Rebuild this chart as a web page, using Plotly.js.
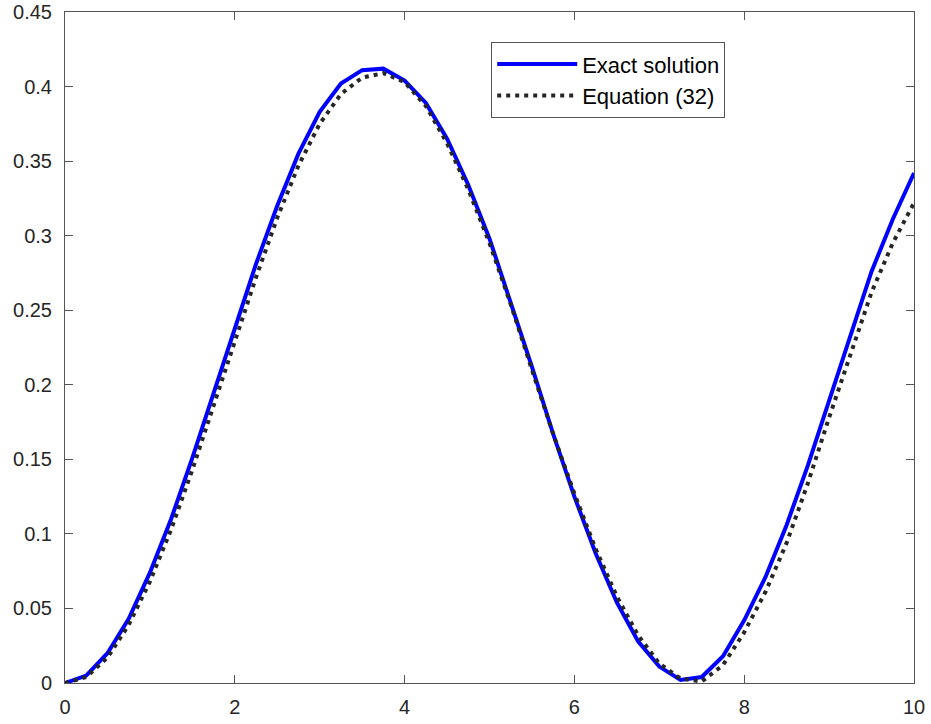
<!DOCTYPE html>
<html>
<head>
<meta charset="utf-8">
<script src="https://cdn.plot.ly/plotly-3.0.1.min.js"></script>
<style>
  html, body { margin: 0; padding: 0; background: #fff; }
  #plot { width: 931px; height: 724px; }
</style>
</head>
<body>
<div id="plot"></div>
<script>
PLOT = document.getElementById('plot');

var xs = [0,0.25,0.5,0.75,1,1.25,1.5,1.75,2,2.25,2.5,2.75,3,3.25,3.5,3.75,4,4.25,4.5,4.75,5,
          5.25,5.5,5.75,6,6.25,6.5,6.75,7,7.25,7.5,7.75,8,8.25,8.5,8.75,9,9.25,9.5,9.75,10];

var exact = [0,0.005,0.020,0.043,0.074,0.110,0.151,0.194,0.238,0.281,0.320,0.355,0.383,0.402,0.411,0.412,
             0.404,0.389,0.365,0.334,0.298,0.256,0.212,0.167,0.125,0.087,0.054,0.028,0.011,0.002,
             0.004,0.018,0.042,0.071,0.106,0.146,0.190,0.234,0.276,0.311,0.342];

var eq32 = [0,0.004,0.017,0.039,0.068,0.103,0.143,0.186,0.230,0.272,0.312,0.347,0.375,0.395,0.406,0.409,
            0.403,0.387,0.362,0.331,0.295,0.254,0.210,0.167,0.127,0.090,0.058,0.032,0.013,0.003,
            0.001,0.012,0.034,0.061,0.094,0.134,0.178,0.221,0.262,0.295,0.322];

var yticks = [0,0.05,0.1,0.15,0.2,0.25,0.3,0.35,0.4,0.45];
var yticktext = ['0','0.05','0.1','0.15','0.2','0.25','0.3','0.35','0.4','0.45'];
var xticks = [0,2,4,6,8,10];

var data = [
    {
        x: xs,
        y: exact,
        name: 'Exact solution',
        type: 'scatter',
        mode: 'lines',
        line: {color: 'rgb(0,0,255)', width: 4}
    },
    {
        x: xs,
        y: eq32,
        name: 'Equation (32)',
        type: 'scatter',
        mode: 'lines',
        line: {color: '#262626', width: 4, dash: '4px,5px'}
    }
];

var axisStyle = {
    showline: true,
    linecolor: '#555555',
    linewidth: 1,
    mirror: 'ticks',
    ticks: 'inside',
    ticklen: 8,
    tickcolor: '#555555',
    showgrid: false,
    zeroline: false,
    tickfont: {family: 'Liberation Sans, Arial, sans-serif', size: 20, color: '#262626'}
};

var layout = {
    width: 931,
    height: 724,
    margin: {l: 65, r: 17, t: 12, b: 41},
    paper_bgcolor: '#ffffff',
    plot_bgcolor: '#ffffff',
    showlegend: true,
    legend: {
        x: 0.502, y: 0.955,
        xanchor: 'left', yanchor: 'top',
        bgcolor: '#ffffff',
        bordercolor: '#555555',
        borderwidth: 1,
        itemwidth: 80,
        font: {family: 'Liberation Sans, Arial, sans-serif', size: 22, color: '#000000'},
        tracegroupgap: 0
    },
    xaxis: Object.assign({}, axisStyle, {
        range: [0, 10],
        tickvals: xticks,
        ticklabelstandoff: 6
    }),
    yaxis: Object.assign({}, axisStyle, {
        range: [0, 0.45],
        tickvals: yticks,
        ticktext: yticktext,
        ticklabelstandoff: 8
    })
};

var config = {staticPlot: true};
Plotly.newPlot(PLOT, data, layout, config);
</script>
</body>
</html>
